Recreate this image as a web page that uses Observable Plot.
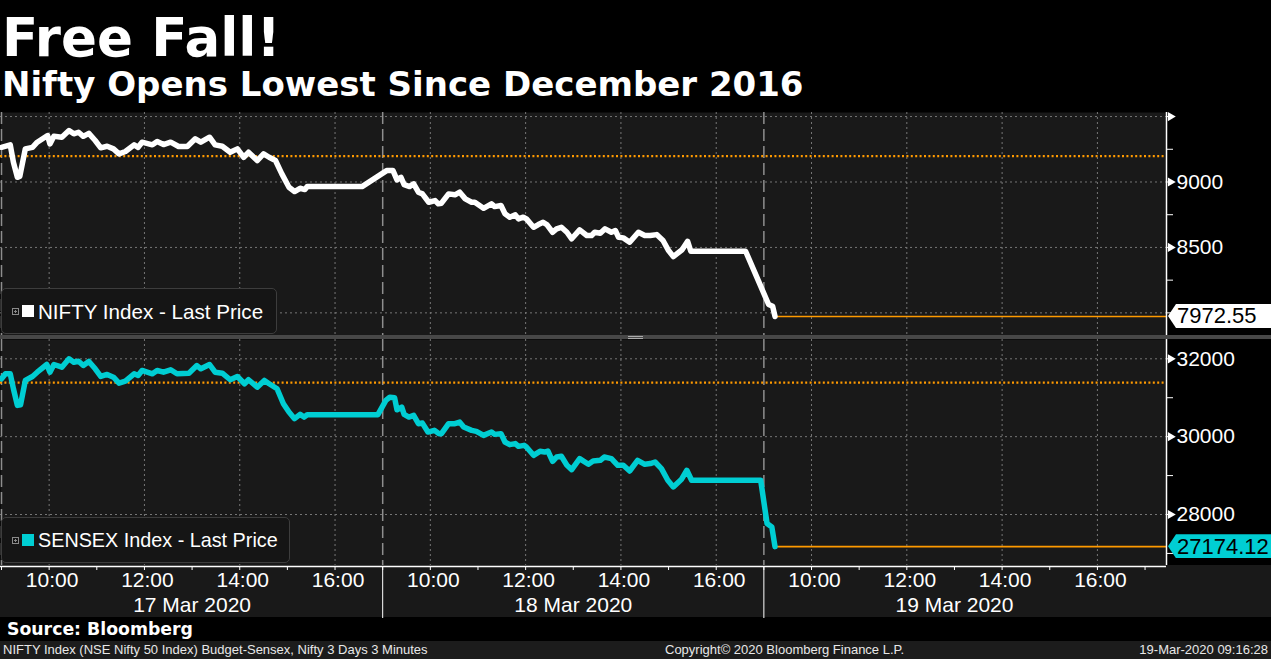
<!DOCTYPE html>
<html><head><meta charset="utf-8">
<script src="https://cdn.jsdelivr.net/npm/d3@7"></script>
<script src="https://cdn.jsdelivr.net/npm/@observablehq/plot@0.6"></script>
<style>
html,body{margin:0;padding:0;background:#000;}
body{width:1271px;height:659px;overflow:hidden;position:relative;font-family:"Liberation Sans",Arial,sans-serif;color:#fff}
.abs{position:absolute;white-space:nowrap}
.icon{position:absolute;width:7px;height:7px;box-sizing:border-box;border:1px solid #8a8a8a;
 background:linear-gradient(#8a8a8a,#8a8a8a) center/3px 1px no-repeat,linear-gradient(#8a8a8a,#8a8a8a) center/1px 3px no-repeat}
</style></head>
<body>
<div id="root"></div>
<script>
// ---------------- data ----------------
const days = ["17 Mar 2020", "18 Mar 2020", "19 Mar 2020"];
const gridHours = [10, 12, 14, 16];
const tickLabels = ["10:00", "12:00", "14:00", "16:00"];

const niftyTimes = ["17 09:00","17 09:11","17 09:15","17 09:20","17 09:23","17 09:30","17 09:39","17 09:45","17 09:58","17 10:01","17 10:06","17 10:16","17 10:25","17 10:31","17 10:37","17 10:43","17 10:50","17 10:58","17 11:05","17 11:13","17 11:21","17 11:28","17 11:36","17 11:47","17 11:52","17 11:57","17 12:10","17 12:16","17 12:24","17 12:33","17 12:43","17 12:54","17 13:04","17 13:11","17 13:22","17 13:29","17 13:38","17 13:48","17 13:57","17 14:05","17 14:11","17 14:22","17 14:30","17 14:37","17 14:45","17 14:53","17 15:02","17 15:09","17 15:16","17 15:22","17 15:25","17 16:34",
"18 09:05","18 09:13","18 09:18","18 09:23","18 09:27","18 09:34","18 09:39","18 09:45","18 09:50","18 09:58","18 10:06","18 10:10","18 10:14","18 10:23","18 10:31","18 10:37","18 10:44","18 10:52","18 10:56","18 11:07","18 11:17","18 11:21","18 11:29","18 11:34","18 11:40","18 11:47","18 11:51","18 11:57","18 12:01","18 12:10","18 12:16","18 12:22","18 12:27","18 12:34","18 12:39","18 12:45","18 12:52","18 12:58","18 13:08","18 13:17","18 13:23","18 13:27","18 13:34","18 13:40","18 13:48","18 13:53","18 13:57","18 14:03","18 14:11","18 14:22","18 14:30","18 14:37","18 14:45","18 14:53","18 15:00","18 15:06","18 15:17","18 15:24","18 15:28","18 16:37",
"19 09:06","19 09:11","19 09:14"];
const niftyValues = [9265,9284,9151,9036,9042,9253,9265,9304,9355,9291,9349,9342,9393,9368,9380,9349,9372,9317,9261,9273,9253,9215,9233,9284,9265,9304,9284,9309,9286,9304,9271,9271,9330,9304,9342,9284,9273,9227,9253,9189,9227,9164,9215,9189,9164,9062,8960,8927,8952,8942,8965,8965,
9087,9087,9016,9036,8980,8965,8986,8922,8909,8845,8858,8833,8838,8909,8902,8922,8871,8845,8845,8799,8833,8812,8820,8757,8731,8749,8718,8731,8718,8654,8675,8692,8673,8616,8642,8654,8616,8566,8634,8591,8591,8616,8608,8642,8616,8629,8578,8573,8540,8616,8591,8591,8598,8553,8476,8430,8482,8547,8471,8471,
8064,8051,7972.55];

const sensexTimes = ["17 09:00","17 09:05","17 09:11","17 09:15","17 09:20","17 09:24","17 09:30","17 09:39","17 09:45","17 09:57","17 10:01","17 10:06","17 10:16","17 10:25","17 10:31","17 10:37","17 10:43","17 10:50","17 10:58","17 11:05","17 11:13","17 11:21","17 11:28","17 11:36","17 11:47","17 11:52","17 11:57","17 12:10","17 12:16","17 12:24","17 12:33","17 12:41","17 12:56","17 13:06","17 13:11","17 13:22","17 13:29","17 13:38","17 13:48","17 13:57","17 14:06","17 14:11","17 14:22","17 14:31","17 14:37","17 14:47","17 14:55","17 15:02","17 15:09","17 15:16","17 15:21","17 15:25","17 16:54",
"18 09:04","18 09:09","18 09:15","18 09:18","18 09:24","18 09:27","18 09:33","18 09:39","18 09:45","18 09:50","18 09:57","18 10:05","18 10:11","18 10:14","18 10:23","18 10:31","18 10:37","18 10:42","18 10:52","18 10:58","18 11:07","18 11:17","18 11:21","18 11:29","18 11:34","18 11:40","18 11:47","18 11:51","18 11:58","18 12:01","18 12:10","18 12:18","18 12:24","18 12:28","18 12:34","18 12:39","18 12:45","18 12:52","18 12:58","18 13:08","18 13:19","18 13:25","18 13:34","18 13:39","18 13:48","18 13:56","18 14:03","18 14:11","18 14:21","18 14:30","18 14:37","18 14:43","18 14:51","18 14:59","18 15:06","18 15:16","18 15:23","18 15:29","18 16:56",
"19 09:04","19 09:10","19 09:14"];
const sensexValues = [31487,31615,31615,31231,30803,30821,31444,31546,31656,31854,31656,31854,31785,32000,31913,31938,31828,31931,31744,31546,31597,31528,31374,31426,31615,31572,31700,31615,31700,31656,31718,31615,31631,31828,31744,31854,31656,31631,31462,31546,31359,31462,31272,31444,31359,31231,30846,30631,30462,30572,30503,30564,30564,
30931,31015,31000,30692,30759,30572,30503,30546,30333,30349,30118,30162,30077,30077,30333,30333,30374,30246,30162,30136,30033,30118,30059,30077,29862,29795,29821,29751,29777,29733,29521,29623,29605,29631,29367,29477,29495,29264,29154,29436,29290,29374,29392,29477,29436,29264,29264,29118,29392,29290,29308,29349,29180,28880,28708,28898,29136,28880,28880,
27769,27682,27174.12];

const niftyPrevClose = 9197.40, sensexPrevClose = 31390.07;
const niftyLast = 7972.55, sensexLast = 27174.12;
const niftyLabelTicks = [9000, 8500];
const niftyArrowTicks = [9500, 9000, 8500];
const niftyMinorTicks = [9500, 9250, 9000, 8750, 8500, 8250, 8000];
const sensexLabelTicks = [32000, 30000, 28000];
const sensexMinorTicks = [32000, 31000, 30000, 29000, 28000, 27000];

// ---------------- helpers ----------------
const W = 1271, MR = 105;
const xMin = -0.021, xMax = 24.45;
const HOURS_PER_DAY = 8, OPEN = 9;
function pos(t) {
  const d = +t.slice(0, 2) - 17, h = +t.slice(3, 5), m = +t.slice(6, 8);
  return d * HOURS_PER_DAY + h - OPEN + m / 60;
}
const dayStarts = days.map((d, i) => i * HOURS_PER_DAY);
const gridPos = days.flatMap((d, i) => gridHours.map(h => i * HOURS_PER_DAY + h - OPEN));
const hourPos = d3.range(0, days.length * HOURS_PER_DAY + 1);
const FONT = "Liberation Sans, Arial, sans-serif";
const root = document.getElementById("root");

function place(el, top) { el.style.position = "absolute"; el.style.left = "0px"; el.style.top = top + "px"; root.appendChild(el); return el; }
function text(str, x, baseline, size, extra = "") {
  const d = document.createElement("div");
  d.className = "abs";
  d.textContent = str;
  d.style.cssText += `left:${x}px;top:${baseline - 0.846 * size}px;font-size:${size}px;line-height:${size}px;${extra}`;
  root.appendChild(d);
  return d;
}
function box(css) { const d = document.createElement("div"); d.style.cssText = css; root.appendChild(d); return d; }

function panel({times, values, prev, last, domain, height, color, minorTicks, labelTicks, arrowTicks, grid}) {
  const data = times.map((t, i) => ({x: pos(t), y: values[i]}));
  const lastX = data[data.length - 1].x;
  return Plot.plot({
    width: W, height, marginLeft: 0, marginRight: MR, marginTop: 0, marginBottom: 0,
    style: {background: "#000", color: "#fff", fontFamily: FONT, overflow: "visible"},
    x: {domain: [xMin, xMax], axis: null},
    y: {domain},
    marks: [
      Plot.frame({fill: "#191919", stroke: "none"}),
      Plot.ruleY(grid, {stroke: "#767676", strokeDasharray: "2,3"}),
      Plot.ruleX(gridPos, {stroke: "#767676", strokeDasharray: "2,3"}),
      Plot.ruleX(dayStarts, {stroke: "#8e8e8e", strokeDasharray: "12,5", strokeWidth: 1.5}),
      Plot.ruleY([prev], {stroke: "#ff9a00", strokeDasharray: "2,2.4", strokeWidth: 2.2}),
      Plot.ruleY([last], {x1: () => lastX, x2: () => xMax, stroke: "#ff9a00", strokeWidth: 1.6}),
      Plot.line(data, {x: "x", y: "y", stroke: color, strokeWidth: 5.5, strokeLinejoin: "round", strokeLinecap: "round"}),
      Plot.ruleX([xMax], {stroke: "#fff", strokeWidth: 1.5}),
      Plot.axisY({anchor: "right", ticks: minorTicks, tickSize: 6, tickFormat: () => "", stroke: "#fff", label: null}),
      Plot.axisY({anchor: "right", ticks: labelTicks, tickSize: 0, tickPadding: 10, fontSize: 21, fill: "#fff", label: null, tickFormat: d => String(d)}),
      Plot.dot(arrowTicks, {x: () => xMax, y: d => d, symbol: "triangle", rotate: 90, r: 3.4, fill: "#fff", dx: 4})
    ]
  });
}

// ---------------- titles ----------------
text("Free Fall!", 2, 56, 53, 'font-family:"DejaVu Sans";font-weight:bold;');
text("Nifty Opens Lowest Since December 2016", 2, 96, 34, 'font-family:"DejaVu Sans";font-weight:bold;');

// ---------------- panels ----------------
const TOP1 = 112, H1 = 223, TOP2 = 339, H2 = 226, STRIP = 565;
const p1 = panel({times: niftyTimes, values: niftyValues, prev: niftyPrevClose, last: niftyLast,
  domain: [7827, 9531], height: H1, color: "#ffffff",
  minorTicks: niftyMinorTicks, labelTicks: niftyLabelTicks, arrowTicks: niftyArrowTicks, grid: [9500, 9000, 8500, 8000]});
place(p1, TOP1);
const p2 = panel({times: sensexTimes, values: sensexValues, prev: sensexPrevClose, last: sensexLast,
  domain: [26690, 32496], height: H2, color: "#00ced3",
  minorTicks: sensexMinorTicks, labelTicks: sensexLabelTicks, arrowTicks: sensexLabelTicks, grid: [32000, 30000, 28000]});
place(p2, TOP2);

// separator between panels
box(`position:absolute;left:0;top:${TOP1 + H1}px;width:${W}px;height:4px;background:#474747`);
box(`position:absolute;left:628px;top:${TOP1 + H1 + 1}px;width:15px;height:1px;background:#aaa`);
box(`position:absolute;left:628px;top:${TOP1 + H1 + 3}px;width:15px;height:1px;background:#aaa`);

// ---------------- x axis strip ----------------
const strip = Plot.plot({
  width: W, height: 52, marginLeft: 0, marginRight: MR, marginTop: 1, marginBottom: 51,
  style: {background: "#191919", color: "#fff", fontFamily: FONT, overflow: "visible"},
  x: {domain: [xMin, xMax]},
  y: {domain: [0, 1], axis: null},
  marks: [
    Plot.ruleY([0], {stroke: "#fff", strokeWidth: 1.5}),
    Plot.axisX({anchor: "bottom", ticks: hourPos, tickSize: 4, tickFormat: () => "", stroke: "#fff", label: null}),
    Plot.axisX({anchor: "bottom", ticks: dayStarts.slice(1), tickSize: 52, tickFormat: () => "", stroke: "#fff", label: null}),
    Plot.axisX({anchor: "bottom", ticks: gridPos, tickSize: 0, tickPadding: 6, fontSize: 21, dx: 3, fill: "#fff", label: null,
      tickFormat: p => tickLabels[gridHours.indexOf(OPEN + Math.round(p) % HOURS_PER_DAY)]}),
    Plot.text(days, {x: (d, i) => i * HOURS_PER_DAY + HOURS_PER_DAY / 2, text: d => d, frameAnchor: "bottom",
      lineAnchor: "top", dy: 31, fontSize: 21, fill: "#fff"})
  ]
});
place(strip, STRIP);

// ---------------- legends ----------------
function legend(top, width, swatch, label, size) {
  box(`position:absolute;left:1px;top:${top}px;width:${width}px;height:46px;border:1px solid #3d3d3d;border-radius:5px;background:#151515;box-sizing:border-box`);
  const ic = document.createElement("div"); ic.className = "icon"; ic.style.left = "12px"; ic.style.top = (top + 20) + "px"; root.appendChild(ic);
  box(`position:absolute;left:22px;top:${top + 17}px;width:12px;height:12px;background:${swatch}`);
  text(label, 38, top + 31, size);
}
legend(288, 276, "#ffffff", "NIFTY Index - Last Price", 20.6);
legend(517, 289, "#00ced3", "SENSEX Index - Last Price", 19.8);

// ---------------- last price tags ----------------
function tag(plot, top, value, bg, label) {
  const y = top + plot.scale("y").apply(value);
  box(`position:absolute;left:1168px;width:103px;height:24px;top:${y - 12}px;background:${bg};clip-path:polygon(0 50%,8px 0,100% 0,100% 100%,8px 100%)`);
  text(label, 1177, y + 8, 22, "color:#000;");
}
tag(p1, TOP1, niftyLast, "#ffffff", niftyLast.toFixed(2));
tag(p2, TOP2, sensexLast, "#00ced3", sensexLast.toFixed(2));

// ---------------- source & footer ----------------
text("Source: Bloomberg", 7, 636, 17.3, 'font-family:"DejaVu Sans";font-weight:bold;');
box(`position:absolute;left:0;top:641px;width:${W}px;height:18px;background:#1c1c1c`);
text("NIFTY Index (NSE Nifty 50 Index) Budget-Sensex, Nifty 3 Days 3 Minutes", 3, 654, 13, "color:#e8e8e8;");
text("Copyright\u00a9 2020 Bloomberg Finance L.P.", 665, 654, 13, "color:#e8e8e8;");
const ts = text("19-Mar-2020 09:16:28", 0, 654, 13, "color:#e8e8e8;");
ts.style.left = ""; ts.style.right = "3px";
</script>
</body></html>
